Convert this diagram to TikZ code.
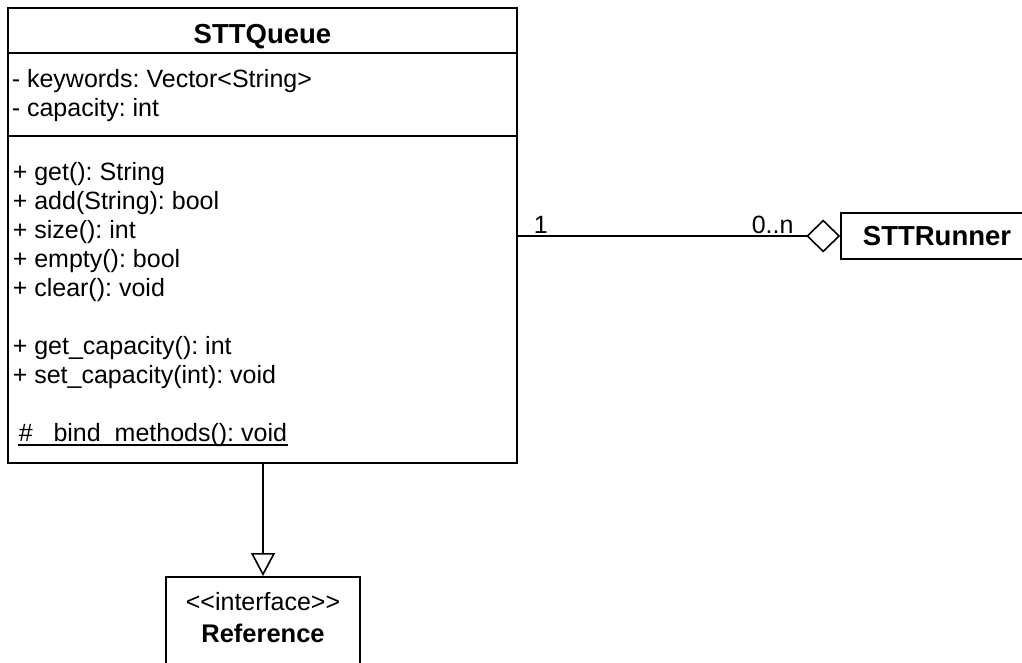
\documentclass[tikz,border=0pt]{standalone}
\usepackage{fontspec}
\setmainfont{Liberation Sans}[Ligatures=TeXOff]
\usetikzlibrary{arrows.meta}
\frenchspacing
\begin{document}
\frenchspacing
\begin{tikzpicture}[x=1pt,y=-1pt, line width=1.6pt,
  umltext/.style={inner sep=0pt, anchor=base west, font=\fontsize{25}{29}\selectfont\frenchspacing},
  umltitle/.style={inner sep=0pt, font=\fontsize{27.5}{32}\selectfont\bfseries},
  classbox/.style={draw, inner sep=0pt, fill=white},
  aggr/.style={-{Diamond[open,length=34pt,width=33pt]}},
  gener/.style={-{Triangle[open,length=23pt,width=24pt]}}]
\useasboundingbox (0,0) rectangle (1022,662);
\clip (0,0) rectangle (1022,662);
\fill[white] (0,0) rectangle (1022,662);

% STTQueue class
\node[classbox, minimum width=509pt, minimum height=455pt] (queue) at (262.5,235.5) {};
\node[umltitle, anchor=base] (qtitle) at (262.5,43) {STTQueue};
\draw (queue.west |- 0,53) -- (queue.east |- 0,53);
\node[umltext] (a1) at (11,87) {- keywords: Vector<String>};
\node[umltext] (a2) at (11,116) {- capacity: int};
\draw (queue.west |- 0,136) -- (queue.east |- 0,136);
\node[umltext] (m1) at (12,180) {+ get(): String};
\node[umltext] (m2) at (12,209) {+ add(String): bool};
\node[umltext] (m3) at (12,238) {+ size(): int};
\node[umltext] (m4) at (12,267) {+ empty(): bool};
\node[umltext] (m5) at (12,296) {+ clear(): void};
\node[umltext] (m6) at (12,354) {+ get\_capacity(): int};
\node[umltext] (m7) at (12,383) {+ set\_capacity(int): void};
\node[umltext] (bind) at (18,441) {\# \_bind\_methods(): void};
\draw[line width=1.4pt] ([yshift=-4pt]bind.base west) -- ([yshift=-4pt]bind.base east);

% STTRunner
\node[classbox, umltitle, minimum width=192pt, minimum height=46pt] (runner) at (937,236) {STTRunner};
\draw[aggr] (runner.west -| queue.east) -- (runner.west);
\node[umltext] (one) at (533,233) {1};
\node[umltext] (many) at (751,233) {0..n};

% Reference interface
\node[classbox, minimum width=194pt, minimum height=120pt, anchor=north] (iface) at (263,576) {};
\node[umltext, anchor=base] (stereo) at (263,610) {<<interface>>};
\node[umltitle, anchor=base, font=\fontsize{25.5}{30}\selectfont\bfseries] (ifname) at (263,642) {Reference};
\draw[gener] (iface.north |- queue.south) -- (iface.north);
\end{tikzpicture}
\end{document}
